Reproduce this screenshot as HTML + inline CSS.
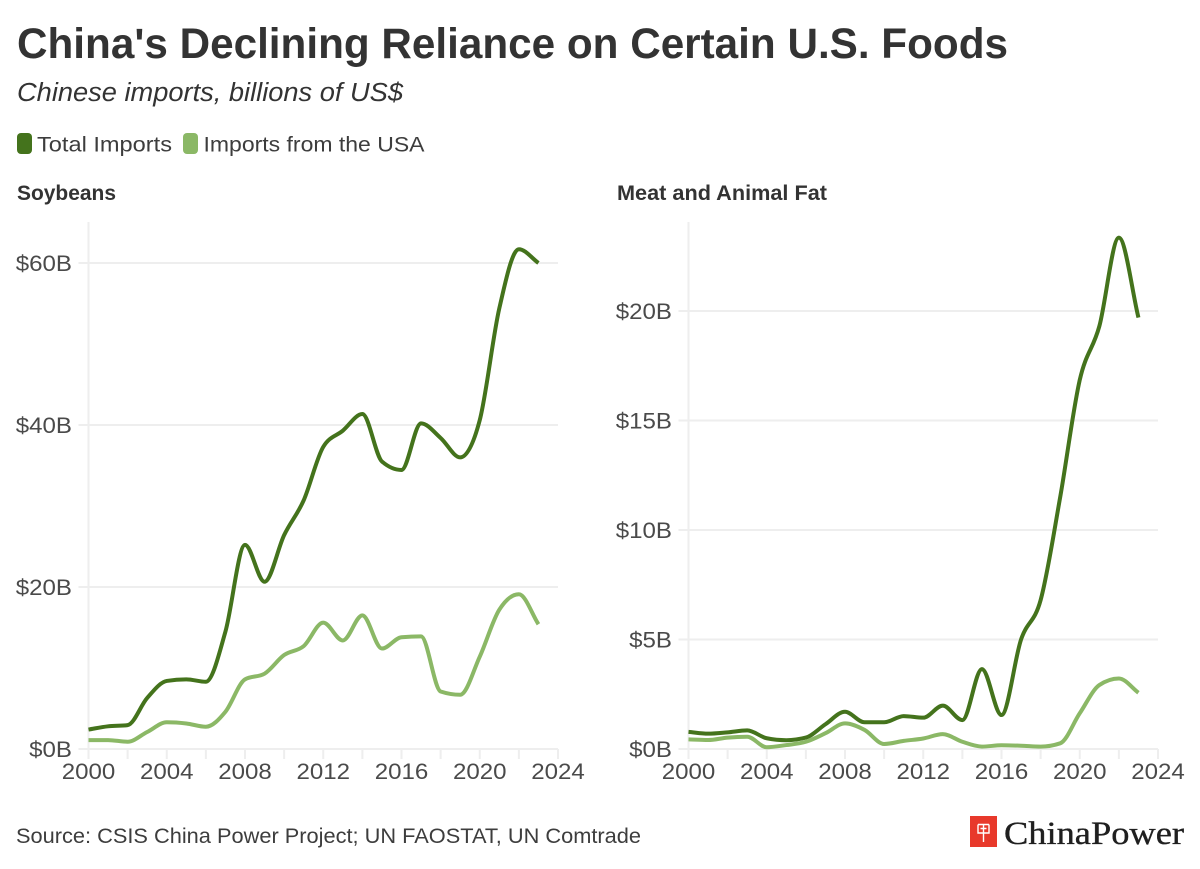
<!DOCTYPE html>
<html lang="en">
<head>
<meta charset="utf-8">
<title>China's Declining Reliance on Certain U.S. Foods</title>
<style>
  html, body { margin: 0; padding: 0; background: #fff; }
  svg { display: block; font-family: "Liberation Sans", sans-serif; }
  .tick-label { font-size: 22.5px; fill: #4a4a4a; }
</style>
</head>
<body>
<svg id="chart" width="1200" height="869" viewBox="0 0 1200 869" xmlns="http://www.w3.org/2000/svg">
  <rect width="1200" height="869" fill="#ffffff"/>
  <text x="17" y="58" font-size="42.5" font-weight="700" fill="#333333" textLength="991" lengthAdjust="spacingAndGlyphs">China's Declining Reliance on Certain U.S. Foods</text>
  <text x="17" y="101" font-size="25.5" font-style="italic" fill="#333333" textLength="386" lengthAdjust="spacingAndGlyphs">Chinese imports, billions of US$</text>

  <g>
    <g>
      <rect x="17" y="133" width="15" height="21" rx="4" fill="#44731c"/>
      <text x="37" y="151.5" font-size="21.5" fill="#3d3d3d" textLength="135" lengthAdjust="spacingAndGlyphs">Total Imports</text>
    </g>
    <g>
      <rect x="183" y="133" width="15" height="21" rx="4" fill="#8bb866"/>
      <text x="203.5" y="151.5" font-size="21.5" fill="#3d3d3d" textLength="221" lengthAdjust="spacingAndGlyphs">Imports from the USA</text>
    </g>
  </g>

  <text x="17" y="200" font-size="21" font-weight="700" fill="#333333" textLength="99" lengthAdjust="spacingAndGlyphs">Soybeans</text>
  <text x="617" y="200" font-size="21" font-weight="700" fill="#333333" textLength="210" lengthAdjust="spacingAndGlyphs">Meat and Animal Fat</text>

  <g id="soy-panel"></g>
  <g id="meat-panel"></g>

  <text x="16" y="843" font-size="21.5" fill="#3d3d3d" textLength="625" lengthAdjust="spacingAndGlyphs">Source: CSIS China Power Project; UN FAOSTAT, UN Comtrade</text>

  <g>
    <rect x="970" y="816" width="27" height="31" fill="#e8392b"/>
    <path d="M978 824.5H989M978 824.5V833H989V824.5M983.5 824.5V842M980.5 828.5H986.5" fill="none" stroke="#ffffff" stroke-width="1.4"/>
    <text x="1004" y="844" font-family="'Liberation Serif', serif" font-size="32.5" fill="#1f1f1f" stroke="#1f1f1f" stroke-width="0.35" textLength="180" lengthAdjust="spacingAndGlyphs">ChinaPower</text>
  </g>
</svg>

<script>
const years = [2000,2001,2002,2003,2004,2005,2006,2007,2008,2009,2010,2011,2012,2013,2014,2015,2016,2017,2018,2019,2020,2021,2022,2023];
const soyTotal = [2.4,2.8,2.95,6.3,8.4,8.6,8.3,14.5,25.2,20.65,26.4,30.7,37.3,39.3,41.35,35.5,34.45,40.2,38.4,36.0,40.6,54.4,61.7,60.0];
const soyUsa = [1.1,1.1,0.9,2.1,3.3,3.15,2.75,4.6,8.6,9.3,11.6,12.7,15.6,13.4,16.5,12.4,13.8,13.9,7.1,6.7,11.4,17.2,19.1,15.4];
const meatTotal = [0.78,0.7,0.76,0.85,0.49,0.4,0.52,1.13,1.7,1.22,1.22,1.5,1.43,1.98,1.32,3.65,1.55,5.0,6.8,11.5,16.85,19.3,23.35,19.7];
const meatUsa = [0.44,0.41,0.52,0.56,0.08,0.18,0.33,0.72,1.17,0.87,0.23,0.37,0.48,0.68,0.33,0.11,0.17,0.15,0.11,0.26,1.63,2.92,3.22,2.57];
const soyTicks = [0,20,40,60];
const meatTicks = [0,5,10,15,20];
const xTicks = [2000,2002,2004,2006,2008,2010,2012,2014,2016,2018,2020,2022,2024];
const xLabels = [2000,2004,2008,2012,2016,2020,2024];

const NS = 'http://www.w3.org/2000/svg';
const DARK = '#44731c';
const LIGHT = '#8bb866';
const GRID = '#eeeeee';

function make(parent, tag, attrs) {
  const node = document.createElementNS(NS, tag);
  Object.keys(attrs).forEach(function (k) { node.setAttribute(k, attrs[k]); });
  parent.appendChild(node);
  return node;
}

function widen(label) {
  label.setAttribute('textLength', (label.getComputedTextLength() * 1.07).toFixed(2));
  label.setAttribute('lengthAdjust', 'spacingAndGlyphs');
}

function monotonePath(pts) {
  const n = pts.length;
  const slopes = [];
  for (let i = 0; i < n - 1; i++) {
    slopes.push((pts[i + 1][1] - pts[i][1]) / (pts[i + 1][0] - pts[i][0]));
  }
  const t = [slopes[0]];
  for (let i = 1; i < n - 1; i++) {
    const a = slopes[i - 1], b = slopes[i];
    const sign = (a < 0 ? -1 : 1) + (b < 0 ? -1 : 1);
    t.push(sign * Math.min(Math.abs(a), Math.abs(b), 0.25 * Math.abs(a + b)));
  }
  t.push(slopes[n - 2]);
  let d = 'M' + pts[0][0].toFixed(2) + ',' + pts[0][1].toFixed(2);
  for (let i = 0; i < n - 1; i++) {
    const h = (pts[i + 1][0] - pts[i][0]) / 3;
    d += 'C' + (pts[i][0] + h).toFixed(2) + ',' + (pts[i][1] + h * t[i]).toFixed(2) + ' ' +
      (pts[i + 1][0] - h).toFixed(2) + ',' + (pts[i + 1][1] - h * t[i + 1]).toFixed(2) + ' ' +
      pts[i + 1][0].toFixed(2) + ',' + pts[i + 1][1].toFixed(2);
  }
  return d;
}

function drawPanel(group, left, right, yZeroValuePx, yRefValue, yRefPx, yTicks, total, usa) {
  const xScale = function (year) { return left + (year - 2000) * (right - left) / 24; };
  const yScale = function (v) { return yZeroValuePx - v * (yZeroValuePx - yRefPx) / yRefValue; };

  yTicks.forEach(function (v) {
    const grid = make(group, 'line', { x1: left - 10, x2: right, y1: yScale(v), y2: yScale(v), stroke: GRID, 'stroke-width': 2 });
    
    
    const label = make(group, 'text', { x: left - 16.5, y: yScale(v) + 8, 'text-anchor': 'end', class: 'tick-label' });
    
    
    label.textContent = '$' + v + 'B';
    widen(label);
  });

  const axis = make(group, 'line', { x1: left, x2: left, y1: 222, y2: yZeroValuePx, stroke: GRID, 'stroke-width': 2 });
  
  

  xTicks.forEach(function (yr) {
    const tick = make(group, 'line', { x1: xScale(yr), x2: xScale(yr), y1: yZeroValuePx, y2: yZeroValuePx + 10, stroke: GRID, 'stroke-width': 2 });
    
    
  });

  xLabels.forEach(function (yr) {
    const label = make(group, 'text', { x: xScale(yr), y: 779, 'text-anchor': 'middle', class: 'tick-label' });
    
    
    label.textContent = yr;
    widen(label);
  });

  const totalLine = make(group, 'path', {
    d: monotonePath(years.map(function (y, i) { return [xScale(y), yScale(total[i])]; })),
    fill: 'none', stroke: DARK, 'stroke-width': 4
  });
  
  

  const usaLine = make(group, 'path', {
    d: monotonePath(years.map(function (y, i) { return [xScale(y), yScale(usa[i])]; })),
    fill: 'none', stroke: LIGHT, 'stroke-width': 4
  });
  
  
}

drawPanel(document.getElementById('soy-panel'), 88.5, 558, 749, 60, 263, soyTicks, soyTotal, soyUsa);
drawPanel(document.getElementById('meat-panel'), 688.5, 1158, 749, 20, 311, meatTicks, meatTotal, meatUsa);
</script>
</body>
</html>
